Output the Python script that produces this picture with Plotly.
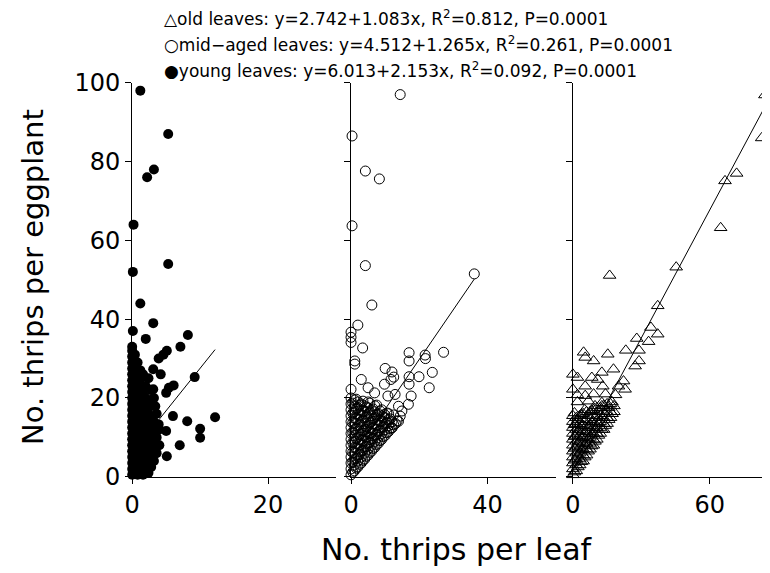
import plotly.graph_objects as go

# ---------------- data ----------------
young_x = [1.2, 5.3, 2.2, 3.2, 0.2, 5.3, 0.1, 1.2, 3.1, 0.1, 2.0, 8.2, 7.1, 5.1, 4.6, 3.9, 3.1, 4.2,
           9.2, 6.1, 5.4, 5.0, 3.1, 1.2, 6.0, 8.1, 12.2, 10.0, 10.0, 5.0, 7.0, 5.1, 3.9, 3.4,
           0.0, 0.0, 0.0, 0.0, 0.0, 0.0, 0.0, 0.0, 0.0, 0.0, 0.0, 0.0, 0.0, 0.0, 0.0, 0.0, 0.0,
           0.0, 0.0, 0.0, 0.0, 0.0, 0.0,
           0.4, 0.4, 0.4, 0.4, 0.4, 0.4, 0.4, 0.4, 0.4, 0.4, 0.4,
           0.8, 0.8, 0.8, 0.8, 0.8, 0.8, 0.8, 0.8, 0.8, 0.8, 0.8,
           1.2, 1.2, 1.2, 1.2, 1.2, 1.2, 1.2, 1.2, 1.2,
           1.6, 1.6, 1.6, 1.6, 1.6, 1.6, 1.6, 1.6, 1.6,
           2.0, 2.0, 2.0, 2.0, 2.0, 2.0, 2.0, 2.0,
           2.4, 2.4, 2.4, 2.4, 2.4, 2.4, 2.4, 2.4,
           2.8, 2.8, 2.8, 2.8, 2.8, 2.8, 2.8,
           3.2, 3.2, 3.2, 3.2, 3.2,
           3.6, 3.6, 3.6, 3.6,
           4.0, 4.0]
young_y = [98, 87, 76, 78, 64, 54, 52, 44, 39, 37, 35, 36, 33, 32, 31, 30, 27.3, 26,
           25.3, 23.2, 22.6, 21.3, 22.2, 24.7, 15.4, 14.1, 15.1, 12.2, 9.9, 11.6, 8.0, 5.2, 13.3, 17.9,
           0.5, 2.0, 3.5, 5.0, 6.5, 8.0, 9.5, 11.0, 12.5, 14.0, 15.5, 17.0, 18.5, 20.0, 21.5, 23.0, 24.5,
           26.0, 27.5, 29.0, 30.5, 32.0, 33.0,
           1.0, 4.0, 7.0, 10.0, 13.0, 16.0, 19.0, 22.0, 25.0, 28.0, 31.0,
           0.5, 3.0, 6.0, 9.0, 12.0, 15.0, 18.0, 21.0, 24.0, 27.0, 29.0,
           1.5, 4.5, 7.5, 10.5, 13.5, 16.5, 19.5, 22.5, 27.0,
           0.5, 3.0, 6.0, 9.0, 12.0, 15.0, 18.0, 21.0, 26.0,
           2.0, 5.0, 8.0, 11.0, 14.0, 17.0, 20.0, 23.0,
           1.0, 4.0, 7.0, 10.0, 13.0, 16.0, 19.0, 25.0,
           2.5, 6.0, 9.0, 12.0, 15.0, 18.0, 22.0,
           4.0, 8.0, 11.0, 14.0, 20.0,
           6.0, 10.0, 13.0, 16.0,
           8.0, 12.0]

mid_x = [14.4, 0.3, 4.2, 8.3, 0.3, 4.2, 36.1, 6.1, 2.0, 0.0, 0.0, 0.0, 3.4, 1.1, 1.1, 17.0, 17.0,
         21.7, 21.8, 27.1, 23.8, 19.9, 22.9, 17.0, 17.0, 10.0, 12.0, 12.5, 9.8, 11.7, 3.0, 0.0, 5.0,
         6.9, 10.8, 12.9, 17.6, 13.9, 16.8, 14.9, 13.9, 14.4, 9.8, 12.0,
         0.0, 0.0, 0.0, 0.0, 0.0, 0.0, 0.0, 0.0, 0.0, 0.0, 0.0, 0.0, 0.0, 0.0,
         1.0, 1.0, 1.0, 1.0, 1.0, 1.0, 1.0, 1.0, 1.0, 1.0, 1.0, 1.0, 1.0,
         2.0, 2.0, 2.0, 2.0, 2.0, 2.0, 2.0, 2.0, 2.0, 2.0, 2.0, 2.0,
         3.0, 3.0, 3.0, 3.0, 3.0, 3.0, 3.0, 3.0, 3.0, 3.0, 3.0,
         4.0, 4.0, 4.0, 4.0, 4.0, 4.0, 4.0, 4.0, 4.0, 4.0,
         5.0, 5.0, 5.0, 5.0, 5.0, 5.0, 5.0, 5.0, 5.0, 5.0,
         6.0, 6.0, 6.0, 6.0, 6.0, 6.0, 6.0, 6.0,
         7.0, 7.0, 7.0, 7.0, 7.0, 7.0, 7.0, 7.0,
         8.0, 8.0, 8.0, 8.0, 8.0, 8.0,
         9.0, 9.0, 9.0, 9.0, 9.0, 9.0,
         10.0, 10.0, 10.0, 10.0,
         11.0, 11.0, 11.0, 11.0,
         12.0, 12.0,
         13.0]
mid_y = [97, 86.5, 77.6, 75.6, 63.7, 53.6, 51.5, 43.6, 38.5, 36.7, 35.4, 34.1, 32.7, 29.4, 28.6, 31.5, 29.4,
         30.9, 30.0, 31.6, 26.5, 25.4, 22.6, 25.4, 23.5, 27.5, 26.6, 25.3, 23.5, 24.7, 24.7, 22.2, 22.6,
         21.3, 20.5, 20.9, 20.5, 17.9, 18.4, 16.7, 14.1, 15.4, 15.8, 12.4,
         0.5, 2.0, 3.5, 5.0, 6.5, 8.0, 9.5, 11.0, 12.5, 14.0, 15.5, 17.0, 18.5, 20.0,
         1.5, 3.0, 4.5, 6.0, 7.5, 9.0, 10.5, 12.0, 13.5, 15.0, 16.5, 18.0, 19.5,
         2.5, 4.0, 5.5, 7.0, 8.5, 10.0, 11.5, 13.0, 14.5, 16.0, 17.5, 19.0,
         3.5, 5.0, 6.5, 8.0, 9.5, 11.0, 12.5, 14.0, 15.5, 17.0, 18.5,
         4.5, 6.0, 7.5, 9.0, 10.5, 12.0, 13.5, 15.0, 16.5, 18.0,
         5.5, 7.0, 8.5, 10.0, 11.5, 13.0, 14.5, 16.0, 17.5, 19.0,
         6.5, 8.0, 9.5, 11.0, 12.5, 14.0, 15.5, 17.0,
         7.5, 9.0, 10.5, 12.0, 13.5, 15.0, 16.5, 18.0,
         8.5, 10.0, 11.5, 13.0, 14.5, 16.0,
         9.5, 11.0, 12.5, 14.0, 15.5, 17.0,
         10.5, 12.0, 13.5, 15.0,
         11.5, 13.0, 14.5, 16.0,
         12.5, 14.0,
         13.5]
mid_x_more = [0.5, 0.5, 0.5, 0.5, 0.5, 0.5, 0.5, 0.5,
              1.5, 1.5, 1.5, 1.5, 1.5, 1.5, 1.5, 1.5,
              2.5, 2.5, 2.5, 2.5, 2.5, 2.5, 2.5,
              3.5, 3.5, 3.5, 3.5, 3.5, 3.5, 3.5,
              4.5, 4.5, 4.5, 4.5, 4.5, 4.5,
              5.5, 5.5, 5.5, 5.5, 5.5, 5.5,
              6.5, 6.5, 6.5, 6.5, 6.5,
              7.5, 7.5, 7.5, 7.5, 7.5,
              8.5, 8.5, 8.5, 8.5,
              9.5, 9.5, 9.5,
              10.5, 10.5, 10.5,
              11.5, 11.5,
              12.5, 12.5,
              13.5]
mid_y_more = [1.2, 3.7, 6.2, 8.7, 11.2, 13.7, 16.2, 18.7,
              2.2, 4.7, 7.2, 9.7, 12.2, 14.7, 17.2, 19.7,
              3.2, 5.7, 8.2, 10.7, 13.2, 15.7, 18.2,
              4.2, 6.7, 9.2, 11.7, 14.2, 16.7, 19.2,
              5.2, 7.7, 10.2, 12.7, 15.2, 17.7,
              6.2, 8.7, 11.2, 13.7, 16.2, 18.7,
              7.2, 9.7, 12.2, 14.7, 17.2,
              8.2, 10.7, 13.2, 15.7, 18.2,
              9.2, 11.7, 14.2, 16.7,
              10.2, 12.7, 15.2,
              11.2, 13.7, 16.2,
              12.2, 14.7,
              13.2, 15.7,
              14.2]

old_x = [84.2, 82.8, 71.8, 66.7, 64.8, 45.3, 16.1, 37.2, 34.2, 37.2, 28.0, 33.2, 23.2, 29.0, 15.3,
         4.7, 5.4, 9.1, 29.0, 27.3, 17.8, 12.7, 0.0, 2.0, 8.3, 10.9, 22.2, 0.0, 5.4, 13.1, 20.0,
         22.9, 2.0, 5.4, 9.1, 14.3, 18.7, 2.0, 6.8, 12.7, 17.1,
         0.0, 0.0, 0.0, 0.0, 0.0, 0.0, 0.0, 0.0, 0.0, 0.0, 0.0,
         1.5, 1.5, 1.5, 1.5, 1.5, 1.5, 1.5, 1.5, 1.5, 1.5,
         3.0, 3.0, 3.0, 3.0, 3.0, 3.0, 3.0, 3.0, 3.0,
         4.5, 4.5, 4.5, 4.5, 4.5, 4.5, 4.5, 4.5, 4.5,
         6.0, 6.0, 6.0, 6.0, 6.0, 6.0, 6.0, 6.0,
         7.5, 7.5, 7.5, 7.5, 7.5, 7.5, 7.5,
         9.0, 9.0, 9.0, 9.0, 9.0, 9.0, 9.0,
         10.5, 10.5, 10.5, 10.5, 10.5, 10.5,
         12.0, 12.0, 12.0, 12.0, 12.0,
         13.5, 13.5, 13.5, 13.5, 13.5,
         15.0, 15.0, 15.0, 15.0,
         16.5, 16.5, 16.5,
         18.0, 18.0]
old_y = [96.9, 86.0, 77.0, 75.1, 63.2, 53.2, 51.1, 43.4, 37.9, 36.2, 35.1, 34.3, 32.1, 32.1, 31.1,
         31.6, 30.3, 29.4, 29.4, 28.1, 27.3, 26.5, 26.0, 25.2, 25.2, 24.7, 24.3, 22.2, 23.0, 23.0, 23.0,
         22.2, 20.8, 20.6, 21.0, 21.0, 20.8, 19.0, 19.2, 18.8, 19.0,
         0.5, 2.0, 3.5, 5.0, 6.5, 8.0, 9.5, 11.0, 12.5, 14.0, 15.5,
         1.5, 3.0, 4.5, 6.0, 7.5, 9.0, 10.5, 12.0, 13.5, 15.0,
         3.0, 4.5, 6.0, 7.5, 9.0, 10.5, 12.0, 13.5, 15.5,
         4.0, 5.5, 7.0, 8.5, 10.0, 11.5, 13.0, 14.5, 16.0,
         5.5, 7.0, 8.5, 10.0, 11.5, 13.0, 14.5, 16.5,
         7.0, 8.5, 10.0, 11.5, 13.0, 14.5, 16.5,
         8.0, 9.5, 11.0, 12.5, 14.0, 15.5, 17.0,
         9.5, 11.0, 12.5, 14.0, 15.5, 17.5,
         11.0, 12.5, 14.0, 15.5, 17.5,
         12.0, 13.5, 15.0, 16.5, 18.0,
         13.5, 15.0, 16.5, 18.5,
         15.0, 16.5, 18.5,
         16.5, 18.0]
old_x_more = [0.7, 0.7, 0.7, 0.7, 0.7, 0.7,
              2.2, 2.2, 2.2, 2.2, 2.2,
              3.7, 3.7, 3.7, 3.7, 3.7,
              5.2, 5.2, 5.2, 5.2, 5.2,
              6.7, 6.7, 6.7, 6.7,
              8.2, 8.2, 8.2, 8.2,
              9.7, 9.7, 9.7, 9.7,
              11.2, 11.2, 11.2,
              12.7, 12.7, 12.7,
              14.2, 14.2,
              15.7, 15.7,
              17.2]
old_y_more = [1.2, 4.2, 7.2, 10.2, 13.2, 16.2,
              2.5, 5.5, 8.5, 11.5, 14.5,
              3.8, 6.8, 9.8, 12.8, 15.8,
              5.0, 8.0, 11.0, 14.0, 17.0,
              6.5, 9.5, 12.5, 15.5,
              7.8, 10.8, 13.8, 16.8,
              9.0, 12.0, 15.0, 18.0,
              10.5, 13.5, 16.5,
              12.0, 15.0, 18.0,
              13.0, 16.0,
              14.5, 17.5,
              16.0]

# regression: intercept, slope, fitted x-range end
young_fit = [6.013, 2.153, 12.2]
mid_fit = [4.512, 1.265, 36.1]
old_fit = [2.742, 1.083, 84.2]

legend_lines = [
    "\u25B3old leaves: y=2.742+1.083x, R<sup>2</sup>=0.812, P=0.0001",
    "\u25CBmid\u2212aged leaves: y=4.512+1.265x, R<sup>2</sup>=0.261, P=0.0001",
    "\u25CFyoung leaves: y=6.013+2.153x, R<sup>2</sup>=0.092, P=0.0001",
]
y_ticks = [0, 20, 40, 60, 80, 100]

# ---------------- figure ----------------
W, H = 770, 573
FONT = "DejaVu Sans"
fig = go.Figure()


def fit_line(fit):
    return [0, fit[2]], [fit[0], fit[0] + fit[1] * fit[2]]


panels = [
    (young_x, young_y, young_fit, dict(symbol="circle", size=10, color="black",
                                       line=dict(width=0)), "x", "y"),
    (mid_x + mid_x_more, mid_y + mid_y_more, mid_fit,
     dict(symbol="circle-open", size=10, color="black", line=dict(width=1)), "x2", "y2"),
    (old_x + old_x_more, old_y + old_y_more, old_fit,
     dict(symbol="triangle-up-open", size=11, color="black", line=dict(width=1)), "x3", "y3"),
]
for xs, ys, fit, mk, xa, ya in panels:
    fig.add_trace(go.Scatter(x=xs, y=ys, mode="markers", marker=mk, xaxis=xa, yaxis=ya,
                             cliponaxis=False, showlegend=False, hoverinfo="skip"))
    lx, ly = fit_line(fit)
    fig.add_trace(go.Scatter(x=lx, y=ly, mode="lines", line=dict(color="black", width=1),
                             xaxis=xa, yaxis=ya, cliponaxis=False, showlegend=False,
                             hoverinfo="skip"))


# screen pixel -> paper fraction (as measured for this page)
def px_x(p):
    return 0.5 + (p - 2 - 393) / 762.5


def px_y(p):
    q = (p - 4.3) / 0.9847
    return 0.5 - (q - 295) / 556.25


ydom = [px_y(478), px_y(82)]
tfont = dict(family=FONT, size=24, color="black")
common_x = dict(showline=True, linecolor="black", linewidth=1, ticks="outside", ticklen=6,
                tickcolor="black", showgrid=False, zeroline=False, tickfont=tfont)
common_y = dict(showline=True, linecolor="black", linewidth=1, ticks="outside", ticklen=6,
                tickcolor="black", showgrid=False, zeroline=False, range=[0, 100],
                tickvals=y_ticks, domain=ydom, tickfont=tfont)

fig.update_layout(
    width=W, height=H, margin=dict(l=0, r=0, t=0, b=0),
    paper_bgcolor="white", plot_bgcolor="white",
    xaxis=dict(common_x, domain=[px_x(130), px_x(334)], range=[0, 30], tickvals=[0, 20], anchor="y"),
    xaxis2=dict(common_x, domain=[px_x(349), px_x(554)], range=[0, 60], tickvals=[0, 40], anchor="y2"),
    xaxis3=dict(common_x, domain=[px_x(571), px_x(770)], range=[0, 87.2], tickvals=[0, 60], anchor="y3"),
    yaxis=dict(common_y, anchor="x"),
    yaxis2=dict(common_y, anchor="x2", showticklabels=False),
    yaxis3=dict(common_y, anchor="x3", showticklabels=False),
)

for txt, yp in zip(legend_lines, [17, 43, 69]):
    fig.add_annotation(text=txt, xref="paper", yref="paper", x=px_x(160), y=px_y(yp),
                       xanchor="left", yanchor="middle", showarrow=False,
                       font=dict(family=FONT, size=17, color="black"))

fig.add_annotation(text="No. thrips per eggplant", xref="paper", yref="paper",
                   x=px_x(31), y=px_y(277), textangle=-90, showarrow=False,
                   xanchor="center", yanchor="middle",
                   font=dict(family=FONT, size=29, color="black"))
fig.add_annotation(text="No. thrips per leaf", xref="paper", yref="paper",
                   x=px_x(455), y=px_y(551), showarrow=False,
                   xanchor="center", yanchor="middle",
                   font=dict(family=FONT, size=30, color="black"))

fig.write_html("out.html")
